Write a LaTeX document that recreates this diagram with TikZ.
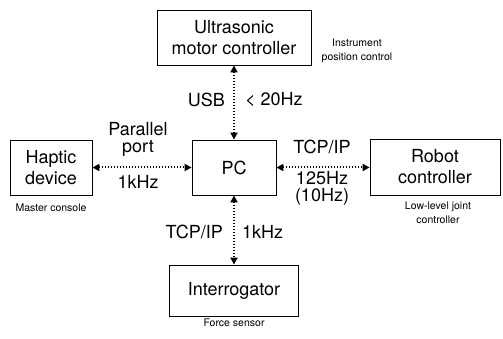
\documentclass[tikz,border=0pt]{standalone}
\usepackage{fontspec}
\setmainfont{TeX Gyre Heros}
\usetikzlibrary{arrows.meta}

\begin{document}
\begin{tikzpicture}[x=1pt, y=-1pt,
    unit/.style={draw, line width=0.8pt, align=center, inner sep=0pt, font=\fontsize{18}{21}\selectfont},
    link/.style={{Triangle[length=7pt,width=7pt]}-{Triangle[length=7pt,width=7pt]}, line width=2pt, dash pattern=on 1.5pt off 1.5pt},
    rate/.style={align=center, inner sep=0pt, font=\fontsize{18}{17}\selectfont},
    note/.style={align=center, inner sep=0pt, font=\fontsize{10.5}{14}\selectfont}]
    \useasboundingbox (0,0) rectangle (503,339);

    % Units
    \node[unit, minimum width=154pt, minimum height=55pt] (motor) at (234,37.5) {Ultrasonic\\motor controller};
    \node[unit, minimum width=82pt, minimum height=55pt] (haptic) at (51,167.5) {Haptic\\device};
    \node[unit, minimum width=84pt, minimum height=55pt] (pc) at (234,167.5) {PC};
    \node[unit, minimum width=130pt, minimum height=56pt] (robot) at (435,167) {Robot\\controller};
    \node[unit, minimum width=129pt, minimum height=51pt] (interr) at (234,290.5) {Interrogator};

    % Notes
    \node[note] (motornote) at (357,51) {Instrument\\position control};
    \node[note] (hapticnote) at (51,208) {Master console};
    \node[note] (robotnote) at (438,213) {Low-level joint\\controller};
    \node[note] (interrnote) at (234,323) {Force sensor};

    % Links
    \draw[link] (pc.north) -- (motor.south);
    \draw[link] (haptic.east) -- (pc.west);
    \draw[link] (pc.east) -- (robot.west |- pc.east);
    \draw[link] (pc.south) -- (interr.north);

    % Link rates
    \node[rate, anchor=east] (usb) at (225,100) {USB};
    \node[rate, anchor=west] (usbrate) at (245,100) {< 20Hz};
    \node[rate] (par) at (138,139) {Parallel\\port};
    \node[rate] (parrate) at (138,182) {1kHz};
    \node[rate] (tcp) at (322,147) {TCP/IP};
    \node[rate] (tcprate) at (322,188) {125Hz\\(10Hz)};
    \node[rate, anchor=east] (ftcp) at (223,232) {TCP/IP};
    \node[rate, anchor=west] (ftcprate) at (242,232) {1kHz};
\end{tikzpicture}
\end{document}
